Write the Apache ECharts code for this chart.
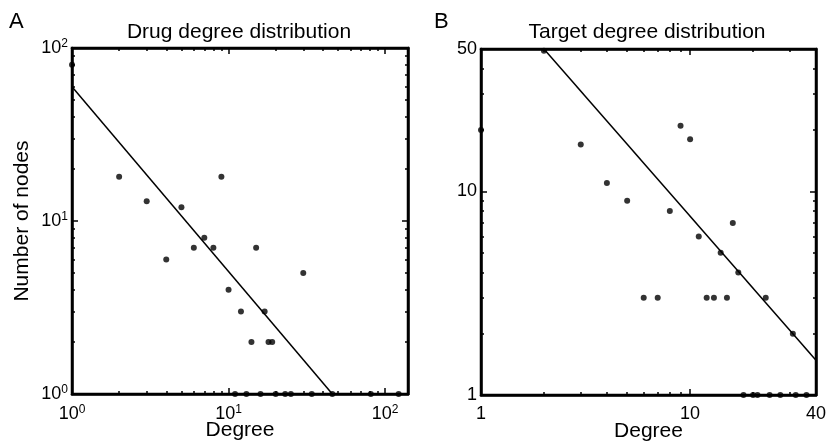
<!DOCTYPE html>
<html>
<head>
<meta charset="utf-8">
<script src="https://cdn.jsdelivr.net/npm/echarts@6/dist/echarts.min.js"></script>
<style>
  html, body { margin: 0; padding: 0; background: #fff; }
  #main { width: 827px; height: 441px; }
</style>
</head>
<body>
<div id="main"></div>
<script>
// drug degree distribution (panel A)
var drugDegree = [1, 2, 3, 4, 5, 6, 7, 8, 9, 10, 12, 14, 15, 17, 18, 19, 30,
  11, 13, 16, 20, 23, 25, 34, 46, 81, 122];
var drugCount = [80, 18, 13, 6, 12, 7, 8, 7, 18, 4, 3, 2, 7, 3, 2, 2, 5,
  1, 1, 1, 1, 1, 1, 1, 1, 1, 1];
var drugFit = [[1, 59.7], [46, 1]];

// target degree distribution (panel B)
var targetDegree = [1, 2, 3, 4, 5, 6, 7, 8, 9, 10, 11, 12, 13, 14, 15, 16, 17, 23, 31,
  18, 20, 21, 24, 27, 32, 36];
var targetCount = [20, 49, 17, 11, 9, 3, 3, 8, 21, 18, 6, 3, 3, 5, 3, 7, 4, 3, 2,
  1, 1, 1, 1, 1, 1, 1];
var targetFit = [[2, 50], [40, 1.48]];

// minor tick positions
var minorA = [2, 3, 4, 5, 6, 7, 8, 9, 20, 30, 40, 50, 60, 70, 80, 90];
var minorB = [2, 3, 4, 5, 6, 7, 8, 9, 20, 30, 40];

var FONT = 'Liberation Sans, Arial, Helvetica, sans-serif';

function pts(xs, ys) {
  return xs.map(function (x, i) { return [x, ys[i]]; });
}

function powLabel(v) {
  var e = Math.round(Math.log(v) / Math.LN10);
  if (Math.abs(Math.pow(10, e) - v) > 1e-6) return '';
  return '10{s|' + e + '}';
}

var richSup = { s: { fontSize: 12, fontFamily: FONT, color: '#000', verticalAlign: 'top', padding: [0, 0, 9, 0] } };

function axis(kind, grid, pos, min, max, label, minors) {
  var a = {
    type: 'log', logBase: 10, gridIndex: grid, position: pos,
    min: min, max: max,
    axisLine: { show: true, lineStyle: { color: '#000', width: 2.5 } },
    axisTick: { show: true, inside: true, length: 6, lineStyle: { color: '#000', width: 1.5 } },
    splitLine: { show: false },
    axisLabel: { show: false }
  };
  if (label) {
    a.axisLabel = {
      show: true, color: '#000', fontSize: 18, fontFamily: FONT,
      margin: kind === 'x' ? 10 : 4,
      showMinLabel: true, showMaxLabel: true,
      formatter: label, rich: richSup
    };
  }
  if (minors) {
    a.axisTick = { show: true, inside: true, length: 3, customValues: minors,
      lineStyle: { color: '#000', width: 1.5 } };
    a.axisLine = { show: false };
  }
  return a;
}

var chart = echarts.init(document.getElementById('main'));
chart.setOption({
  backgroundColor: '#fff',
  animation: false,
  title: [
    { text: 'A', left: 9, top: 11, padding: 0, textStyle: { fontSize: 22, fontWeight: 'normal', fontFamily: FONT, color: '#000' } },
    { text: 'B', left: 434, top: 11, padding: 0, textStyle: { fontSize: 22, fontWeight: 'normal', fontFamily: FONT, color: '#000' } },
    { text: 'Drug degree distribution', left: 239, top: 22, padding: 0, textAlign: 'center',
      textStyle: { fontSize: 21, fontWeight: 'normal', fontFamily: FONT, color: '#000' } },
    { text: 'Target degree distribution', left: 647, top: 22, padding: 0, textAlign: 'center',
      textStyle: { fontSize: 21, fontWeight: 'normal', fontFamily: FONT, color: '#000' } }
  ],
  grid: [
    { left: 72, top: 48, width: 336, height: 346, show: true, borderColor: '#000', borderWidth: 2.5,
      outerBoundsMode: 'none', containLabel: false },
    { left: 481, top: 49, width: 335, height: 346, show: true, borderColor: '#000', borderWidth: 2.5,
      outerBoundsMode: 'none', containLabel: false }
  ],
  xAxis: [
    Object.assign(axis('x', 0, 'bottom', 1, 140, powLabel), {
      name: 'Degree', nameLocation: 'middle', nameGap: 26, nameMoveOverlap: false,
      nameTextStyle: { fontSize: 21, fontFamily: FONT, color: '#000' }
    }),
    axis('x', 0, 'top', 1, 140),
    axis('x', 0, 'bottom', 1, 140, null, minorA),
    axis('x', 0, 'top', 1, 140, null, minorA),
    Object.assign(axis('x', 1, 'bottom', 1, 40, function (v) { return String(Math.round(v)); }), {
      name: 'Degree', nameLocation: 'middle', nameGap: 26, nameMoveOverlap: false,
      nameTextStyle: { fontSize: 21, fontFamily: FONT, color: '#000' }
    }),
    axis('x', 1, 'top', 1, 40),
    axis('x', 1, 'bottom', 1, 40, null, minorB),
    axis('x', 1, 'top', 1, 40, null, minorB)
  ],
  yAxis: [
    Object.assign(axis('y', 0, 'left', 1, 100, powLabel), {
      name: 'Number of nodes', nameLocation: 'middle', nameGap: 39, nameMoveOverlap: false,
      nameTextStyle: { fontSize: 21, fontFamily: FONT, color: '#000' }
    }),
    axis('y', 0, 'right', 1, 100),
    axis('y', 0, 'left', 1, 100, null, minorA),
    axis('y', 0, 'right', 1, 100, null, minorA),
    axis('y', 1, 'left', 1, 50, function (v) { return String(Math.round(v)); }),
    axis('y', 1, 'right', 1, 50),
    axis('y', 1, 'left', 1, 50, null, minorB),
    axis('y', 1, 'right', 1, 50, null, minorB)
  ],
  series: [
    { type: 'scatter', xAxisIndex: 0, yAxisIndex: 0, data: pts(drugDegree, drugCount),
      symbolSize: 6, clip: false, itemStyle: { color: '#000' } },
    { type: 'line', xAxisIndex: 0, yAxisIndex: 0, data: drugFit, symbol: 'none',
      lineStyle: { color: '#000', width: 1.5 } },
    { type: 'scatter', xAxisIndex: 4, yAxisIndex: 4, data: pts(targetDegree, targetCount),
      symbolSize: 6, clip: false, itemStyle: { color: '#000' } },
    { type: 'line', xAxisIndex: 4, yAxisIndex: 4, data: targetFit, symbol: 'none',
      lineStyle: { color: '#000', width: 1.5 } }
  ]
});
</script>
</body>
</html>
